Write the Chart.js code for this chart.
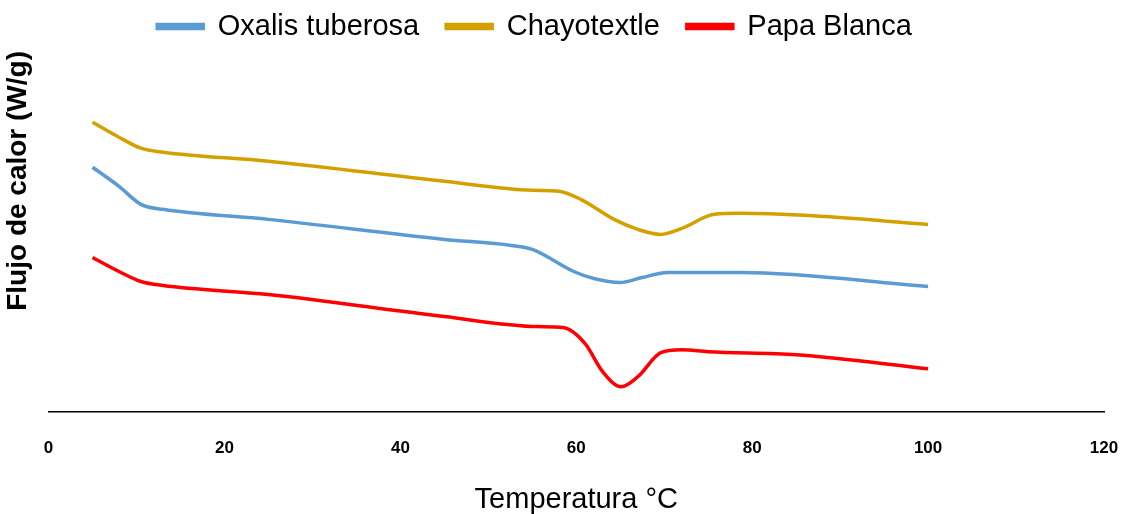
<!DOCTYPE html>
<html>
<head>
<meta charset="utf-8">
<script src="https://cdn.jsdelivr.net/npm/chart.js@4"></script>
<style>
  body { margin: 0; background: #fff; }
  #wrap { width: 1124px; height: 514px; }
</style>
</head>
<body>
<div id="wrap"><canvas id="chart"></canvas></div>
<script>
// temperatures (°C) and heat flow (arbitrary units)
const oxalisT = [5, 8, 10.5, 13, 25, 45, 52.6, 55, 59.7, 62, 65, 67.5, 70.4, 78.7, 100]
const oxalisY = [244, 225, 207, 202, 192, 172, 166, 162, 140, 133, 129, 134, 139, 139, 125]

const chayoT = [5, 8, 10.5, 13, 25, 45, 55, 58, 60.5, 64.3, 67, 69.6, 72, 75.7, 78.7, 86, 100]
const chayoY = [289, 274, 263, 259, 250, 230, 221, 220, 212, 192, 182, 177, 183, 197, 198, 196, 187]

const papaT = [5, 8, 10.5, 13, 25, 45, 55.6, 58.5, 61, 63, 65.1, 67, 69.6, 72, 75, 85, 100]
const papaY = [154, 140, 130, 126, 117, 95, 85, 84, 68, 40, 25, 35, 59, 62, 60, 57, 43]

const seriesNames = ['Oxalis tuberosa', 'Chayotextle', 'Papa Blanca']
const xTicks = [0, 20, 40, 60, 80, 100, 120]

const font = "'Liberation Sans', sans-serif"

function pts(xs, ys){
    return xs.map((x, i) => ({x: x, y: ys[i]}))
}

function ds(label, xs, ys, color){
    return {
        label: label,
        data: pts(xs, ys),
        borderColor: color,
        backgroundColor: color,
        borderWidth: 3.5,
        pointRadius: 0,
        showLine: true,
        tension: 0.4,
        cubicInterpolationMode: 'monotone'
    }
}

// legend sits a bit left of centre in the original
const legendShift = {
    id: 'legendShift',
    afterLayout(chart){
        chart.legend.left -= 28
        chart.legend.right -= 28
    }
}

let chart = new Chart(document.querySelector('#chart'), {
    type: 'scatter',
    data: {
        datasets: [
            ds(seriesNames[0], oxalisT, oxalisY, '#5b9bd5'),
            ds(seriesNames[1], chayoT, chayoY, '#d4a000'),
            ds(seriesNames[2], papaT, papaY, '#ff0000')
        ]
    },
    plugins: [legendShift],
    options: {
        responsive: true,
        maintainAspectRatio: false,
        animation: false,
        layout: { padding: { left: 1, right: 0, top: -15, bottom: -3 } },
        plugins: {
            tooltip: { enabled: false },
            legend: {
                position: 'top',
                labels: {
                    color: '#000',
                    boxWidth: 46,
                    boxHeight: 4,
                    padding: 27,
                    font: { family: font, size: 29 }
                }
            }
        },
        scales: {
            x: {
                type: 'linear',
                min: 0,
                max: 120,
                afterBuildTicks: (axis) => { axis.ticks = xTicks.map(v => ({value: v})) },
                afterFit: (axis) => { axis.paddingLeft = 0; axis.paddingRight = 20 },
                grid: { display: false },
                border: { display: true, color: '#000', width: 1.5 },
                ticks: {
                    color: '#000',
                    padding: 18,
                    maxRotation: 0,
                    font: { family: font, size: 17, weight: 'bold' }
                },
                title: {
                    display: true,
                    text: 'Temperatura °C',
                    color: '#000',
                    padding: { top: 6, bottom: 0 },
                    font: { family: font, size: 29 }
                }
            },
            y: {
                min: 0,
                max: 360,
                grid: { display: false },
                border: { display: false },
                ticks: { display: false },
                title: {
                    display: true,
                    align: 'end',
                    text: 'Flujo de calor (W/g)',
                    color: '#000',
                    padding: { top: 0, bottom: 6 },
                    font: { family: font, size: 28, weight: 'bold' }
                }
            }
        }
    }
})
</script>
</body>
</html>
